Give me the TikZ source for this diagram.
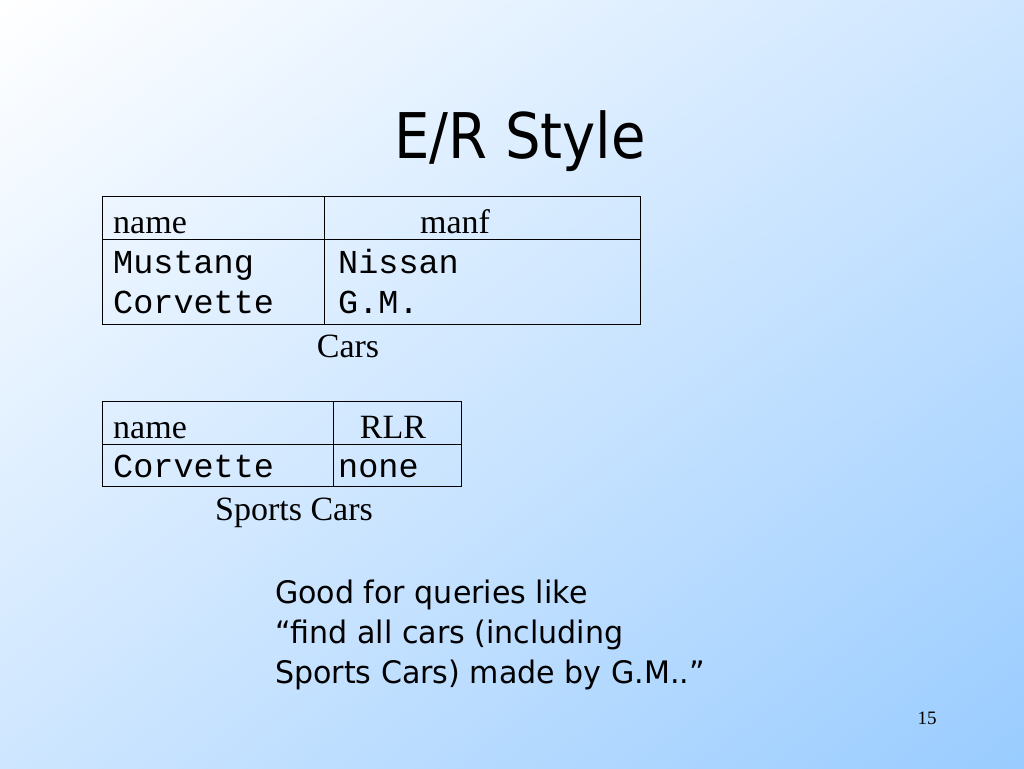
\documentclass[tikz,border=0pt]{standalone}
\usepackage{fontspec}
\usetikzlibrary{shadings}
\setmainfont{Liberation Serif}
\setmonofont{Liberation Mono}
\newfontfamily\titlefont[FakeStretch=0.89]{DejaVu Sans}
\newfontfamily\bodyfont[FakeStretch=0.97]{DejaVu Sans}
\definecolor{bgmid}{RGB}{206,230,255}
\definecolor{bgend}{RGB}{153,204,255}
\begin{document}
\begin{tikzpicture}[x=1pt,y=1pt,
  txt/.style={inner sep=0pt, anchor=base west},
  ctxt/.style={inner sep=0pt, anchor=base},
  serif/.style={font=\fontsize{34}{38}\selectfont},
  mono/.style={font=\fontsize{33.5}{38}\ttfamily},
  body/.style={font=\bodyfont\fontsize{31}{40}\selectfont},
  grid/.style={draw=black, line width=1pt}]
\useasboundingbox (0,0) rectangle (1024,-768);
\shade[upper left=white, upper right=bgmid, lower left=bgmid, lower right=bgend] (0,0) rectangle (1024,-768);
\node[ctxt, font=\titlefont\fontsize{63}{70}\selectfont] (title) at (520,-158) {E/R Style};
% table Cars
\draw[grid] (102,-196) rectangle (640,-324);
\draw[grid] (324,-196) -- (324,-324);
\draw[grid] (102,-239) -- (640,-239);
\node[txt, serif] (c1h) at (113,-233) {name};
\node[ctxt, serif] (c2h) at (455,-233) {manf};
\node[txt, mono] (c11) at (113,-273) {Mustang};
\node[txt, mono] (c21) at (113,-313) {Corvette};
\node[txt, mono] (c12) at (338,-273) {Nissan};
\node[txt, mono] (c22) at (338,-313) {G.M.};
\node[ctxt, serif] (cars) at (348,-357) {Cars};
% table Sports Cars
\draw[grid] (102,-401) rectangle (461,-486);
\draw[grid] (333,-401) -- (333,-486);
\draw[grid] (102,-444) -- (461,-444);
\node[txt, serif] (s1h) at (113,-438) {name};
\node[ctxt, serif] (s2h) at (393,-438) {RLR};
\node[txt, mono] (s11) at (113,-477) {Corvette};
\node[txt, mono] (s12) at (338,-477) {none};
\node[ctxt, serif] (sports) at (294,-520) {Sports Cars};
% body text
\node[txt, body] (l1) at (275,-603) {Good for queries like};
\node[txt, body] (l2) at (275,-643) {“find all cars (including};
\node[txt, body] (l3) at (275,-683) {Sports Cars) made by G.M..”};
\node[ctxt, font=\fontsize{19}{22}\selectfont] (page) at (927,-724) {15};
\end{tikzpicture}
\end{document}
